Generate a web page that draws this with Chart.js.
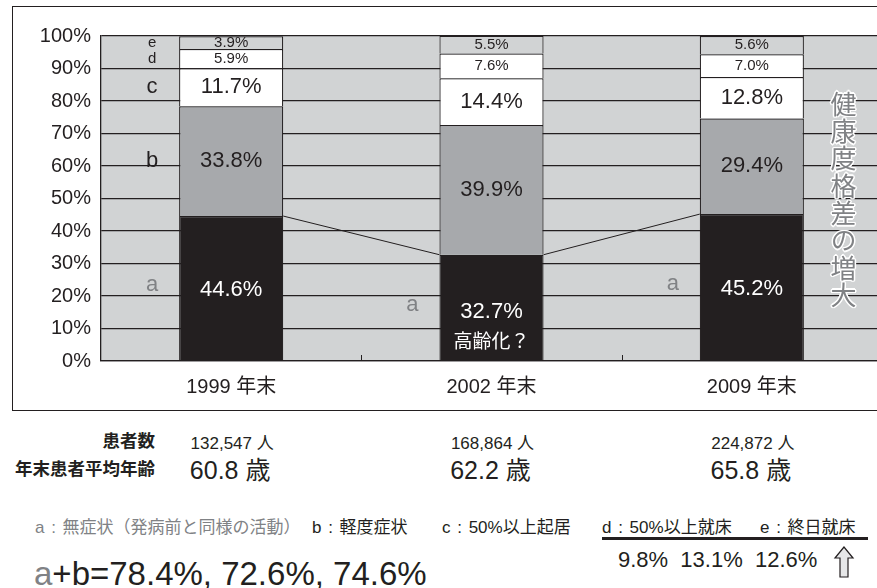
<!DOCTYPE html>
<html><head><meta charset="utf-8">
<script src="https://cdn.jsdelivr.net/npm/chart.js@4/dist/chart.umd.min.js"></script>
<style>
html,body{margin:0;padding:0;overflow:hidden;background:#fff;width:877px;height:588px;}
body{font-family:'Liberation Sans','Noto Sans CJK JP',sans-serif;color:#231f20;position:relative;}
#box{position:absolute;left:12px;top:6px;width:900px;height:405px;border:1.5px solid #231f20;box-sizing:border-box;}
#c{position:absolute;left:0;top:0;}
#vt{position:absolute;left:830px;top:91px;writing-mode:vertical-rl;font-family:'Noto Sans CJK JP',sans-serif;font-size:26px;line-height:26px;letter-spacing:1.3px;color:#808285;
 text-shadow:1.5px 0 0 #fff,-1.5px 0 0 #fff,0 1.5px 0 #fff,0 -1.5px 0 #fff,1px 1px 0 #fff,-1px -1px 0 #fff,1px -1px 0 #fff,-1px 1px 0 #fff;}
</style></head>
<body>
<div id="box"></div>
<canvas id="c" width="900" height="415"></canvas>
<div id="vt">健康度格差の増大</div>
<script>
// ---- data ----
const categories = ['1999 年末', '2002 年末', '2009 年末'];
const seriesA = [44.6, 32.7, 45.2];   // a: 無症状
const seriesB = [33.8, 39.9, 29.4];   // b: 軽度症状
const seriesC = [11.7, 14.4, 12.8];   // c: 50%以上起居
const seriesD = [5.9, 7.6, 7.0];      // d: 50%以上就床
const seriesE = [3.9, 5.5, 5.6];      // e: 終日就床
const seriesLetters = ['a', 'b', 'c', 'd', 'e'];
const sideLetterSeries = [[0, 1, 2, 3, 4], [0], [0]];
const barNotes = ['', '高齢化？', ''];
const yTickValues = [0, 10, 20, 30, 40, 50, 60, 70, 80, 90, 100];
const patients = ['132,547', '168,864', '224,872'];
const meanAges = ['60.8', '62.2', '65.8'];
const legendTexts = ['a : 無症状（発病前と同様の活動）', 'b : 軽度症状', 'c : 50%以上起居', 'd : 50%以上就床', 'e : 終日就床'];
const sumAB = ['78.4', '72.6', '74.6'];
const sumDE = ['9.8', '13.1', '12.6'];

// ---- styles ----
const DARK = '#231f20', GRAY_TXT = '#808285', BG = '#d1d3d4';
const FONT = "'Liberation Sans','Noto Sans CJK JP',sans-serif";
Chart.defaults.font.family = FONT;
Chart.defaults.color = DARK;

const bgPlugin = {
  id: 'bg',
  beforeDraw(chart) {
    const a = chart.chartArea, ctx = chart.ctx;
    ctx.save(); ctx.fillStyle = BG; ctx.fillRect(a.left, a.top, a.right - a.left, a.bottom - a.top); ctx.restore();
  }
};

const labelPlugin = {
  id: 'segLabels',
  afterDatasetsDraw(chart) {
    const ctx = chart.ctx;
    ctx.save();
    ctx.textAlign = 'center'; ctx.textBaseline = 'middle';
    // connecting line between tops of 'a'
    const m0 = chart.getDatasetMeta(0).data;
    ctx.strokeStyle = DARK; ctx.lineWidth = 1;
    for (let i = 0; i < m0.length - 1; i++) {
      const p = m0[i], q = m0[i + 1];
      ctx.beginPath();
      ctx.moveTo(p.x + p.width / 2, p.y);
      ctx.lineTo(q.x - q.width / 2, q.y);
      ctx.stroke();
    }
    chart.data.datasets.forEach((ds, di) => {
      const meta = chart.getDatasetMeta(di);
      const small = di >= 3;
      meta.data.forEach((bar, i) => {
        const cy = (bar.y + bar.base) / 2;
        const size = small ? 15 : 22;
        ctx.font = size + 'px ' + FONT;
        ctx.fillStyle = di === 0 ? '#ffffff' : DARK;
        let ly = cy;
        if (di === 0 && barNotes[i]) ly = cy + 2;
        if (di === 0) ly += 2;
        ctx.fillText(ds.data[i].toFixed(1) + '%', bar.x, ly);
        if (di === 0 && barNotes[i]) {
          ctx.font = '19px ' + FONT;
          ctx.fillText(barNotes[i], bar.x, ly + 31);
        }
        if (sideLetterSeries[i].includes(di)) {
          ctx.font = size + 'px ' + FONT;
          ctx.fillStyle = di === 0 ? GRAY_TXT : DARK;
          ctx.fillText(seriesLetters[di], bar.x - bar.width / 2 - 27, cy - (di === 0 ? 3 : 0));
        }
      });
    });
    // inward tick marks at category boundaries
    const xs = chart.scales.x, bottom = chart.chartArea.bottom;
    ctx.strokeStyle = DARK; ctx.lineWidth = 1;
    for (let i = 0; i < categories.length - 1; i++) {
      const bx = Math.round((xs.getPixelForValue(i) + xs.getPixelForValue(i + 1)) / 2) + 0.5;
      ctx.beginPath(); ctx.moveTo(bx, bottom - 6); ctx.lineTo(bx, bottom); ctx.stroke();
    }
    ctx.restore();
  }
};

const segColors = [DARK, '#a7a9ac', '#ffffff', '#ffffff', BG];
const seriesList = [seriesA, seriesB, seriesC, seriesD, seriesE];

const chart = new Chart(document.getElementById('c'), {
  type: 'bar',
  data: {
    labels: categories,
    datasets: seriesList.map((s, k) => ({
      label: seriesLetters[k],
      data: s,
      backgroundColor: segColors[k],
      borderColor: DARK,
      borderWidth: 1.2,
      barPercentage: 0.4,
      categoryPercentage: 1.0
    }))
  },
  options: {
    responsive: false,
    animation: false,
    devicePixelRatio: 1,
    layout: { padding: { left: 0, top: 36, right: 18, bottom: 0 } },
    plugins: { legend: { display: false }, tooltip: { enabled: false } },
    scales: {
      x: {
        stacked: true,
        grid: { display: false, drawTicks: false },
        border: { display: true, color: DARK, width: 1.2 },
        ticks: { padding: 14, font: { size: 20 }, color: DARK },
        afterFit(s) { s.height = 54; }
      },
      y: {
        stacked: true,
        min: 0, max: 100,
        afterBuildTicks(s) { s.ticks = yTickValues.map(v => ({ value: v })); },
        grid: { color: DARK, lineWidth: 1.3, drawTicks: false },
        border: { display: true, color: DARK, width: 1.3 },
        ticks: { padding: 10, font: { size: 20 }, color: DARK, callback: v => v + '%' },
        afterFit(s) { s.width = 101; }
      }
    }
  },
  plugins: [bgPlugin, labelPlugin]
});

// ---- text below the chart ----
function place(html, x, baseline, size, o = {}) {
  const d = document.createElement('div');
  d.innerHTML = html;
  d.style.cssText = `position:absolute;white-space:pre;line-height:1;font-size:${size}px;font-weight:${o.weight || 'normal'};color:${o.color || DARK};top:${baseline - 0.85 * size}px;left:${x}px;${o.extra || ''}`;
  if (o.align === 'center') d.style.transform = 'translateX(-50%)';
  if (o.align === 'right') d.style.transform = 'translateX(-100%)';
  document.body.appendChild(d);
  return d;
}
const xs = chart.scales.x;
place('患者数', 155, 448, 17.5, { align: 'right', weight: 'bold' });
place('年末患者平均年齢', 155, 476, 17.5, { align: 'right', weight: 'bold' });
patients.forEach((p, i) => place(p + ' 人', xs.getPixelForValue(i) + 1, 449, 17, { align: 'center' }));
meanAges.forEach((a, i) => place(a + ' 歳', xs.getPixelForValue(i) - 1, 479, 25, { align: 'center' }));

const legendLefts = [35, 312, 442, 602, 760];
legendTexts.forEach((t, i) => place(t, legendLefts[i], 533, 17, { color: i === 0 ? GRAY_TXT : DARK, extra: 'word-spacing:2px;' }));
const ul = document.createElement('div');
ul.style.cssText = 'position:absolute;left:602px;top:537px;width:266px;height:2.5px;background:' + DARK;
document.body.appendChild(ul);

place(sumDE.map(v => v + '%').join('  '), 618, 568, 22);
place('<span style="color:' + GRAY_TXT + '">a</span>+b=' + sumAB.map(v => v + '%').join(', '), 34, 585, 33);

const svgNS = 'http://www.w3.org/2000/svg';
const svg = document.createElementNS(svgNS, 'svg');
svg.setAttribute('width', '30'); svg.setAttribute('height', '40');
svg.style.cssText = 'position:absolute;left:830px;top:542px;';
svg.innerHTML = '<polygon points="14,5 5,16 10,16 10,35 18,35 18,16 23,16" fill="#e6e7e8" stroke="' + DARK + '" stroke-width="1.2"/>';
document.body.appendChild(svg);
</script>
</body></html>
